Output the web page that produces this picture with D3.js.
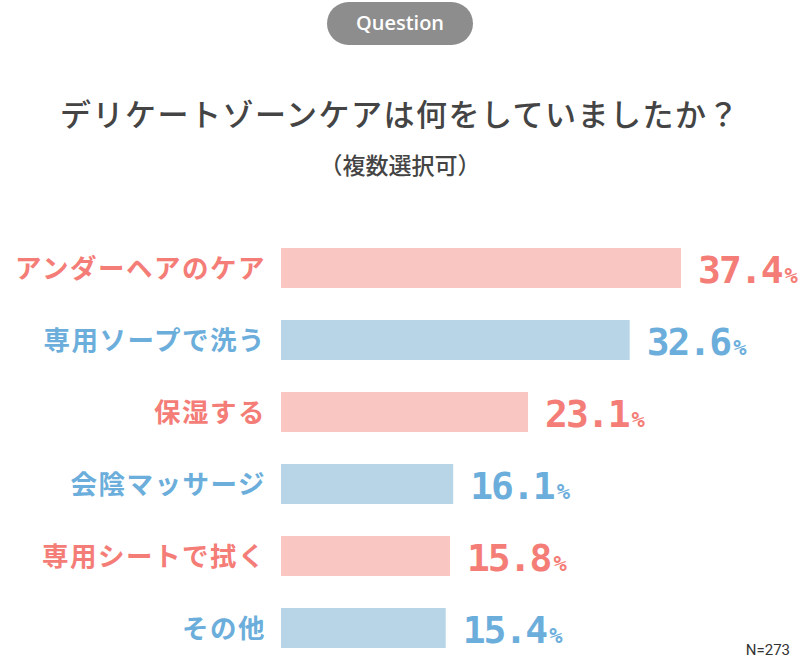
<!DOCTYPE html>
<html><head><meta charset="utf-8">
<script src="https://cdn.jsdelivr.net/npm/d3@7"></script>
<style>body{margin:0;background:#fff}svg{display:block}</style>
</head><body>
<script>
const categories = ["アンダーヘアのケア","専用ソープで洗う","保湿する","会陰マッサージ","専用シートで拭く","その他"];
const values = [37.4, 32.6, 23.1, 16.1, 15.8, 15.4];
const title = "デリケートゾーンケアは何をしていましたか？";
const subtitle = "（複数選択可）";
const badge = "Question";
const note = "N=273";

const W = 800, H = 667;
const jp = "'Noto Sans CJK JP','Noto Sans JP',sans-serif";
const svg = d3.select("body").append("svg").attr("width", W).attr("height", H);

const pink = {bar:"#f9c6c2", text:"#f47d77"};
const blue = {bar:"#b8d5e7", text:"#6caedb"};

// badge
svg.append("rect").attr("x",327).attr("y",2).attr("width",146).attr("height",43).attr("rx",21.5).attr("fill","#8d8d8d");
svg.append("text").attr("x",400).attr("y",30).attr("text-anchor","middle").attr("fill","#fff")
  .attr("font-family","'Open Sans',sans-serif").attr("font-weight",600).attr("font-size",20).text(badge);

svg.append("text").attr("x",400).attr("y",126).attr("text-anchor","middle").attr("fill","#444")
  .attr("font-family",jp).attr("font-weight",500).attr("font-size",31).attr("letter-spacing",1.5).text(title);
svg.append("text").attr("x",400).attr("y",174).attr("text-anchor","middle").attr("fill","#444")
  .attr("font-family",jp).attr("font-weight",500).attr("font-size",23).text(subtitle);

const x = d3.scaleLinear().domain([0, 37.4]).range([281, 681]);
const yb = d3.scalePoint().domain(categories).range([248, 608]);
const bh = 40;

const g = svg.append("g");
categories.forEach((c,i)=>{
  const col = i%2===0 ? pink : blue;
  const y0 = yb(c);
  g.append("rect").attr("x",x(0)).attr("y",y0).attr("width",x(values[i])-x(0)).attr("height",bh).attr("fill",col.bar);
  g.append("text").attr("x",266).attr("y",y0+bh/2+10).attr("text-anchor","end").attr("fill",col.text)
    .attr("font-family",jp).attr("font-weight",700).attr("font-size",26.5).attr("letter-spacing",1.5).text(c);
  const t = g.append("text").attr("x",x(values[i])+17).attr("y",y0+bh/2+15).attr("fill",col.text)
    .attr("font-family","'DejaVu Sans Mono','Liberation Mono',monospace").attr("font-weight",700);
  t.append("tspan").attr("font-size",38).attr("letter-spacing",-2).text(values[i].toFixed(1));
  t.append("tspan").attr("font-size",22).attr("dx",3).text("%");
});

svg.append("text").attr("x",790).attr("y",655).attr("text-anchor","end").attr("fill","#333")
  .attr("font-family","Roboto,sans-serif").attr("font-size",15).text(note);
</script>
</body></html>
